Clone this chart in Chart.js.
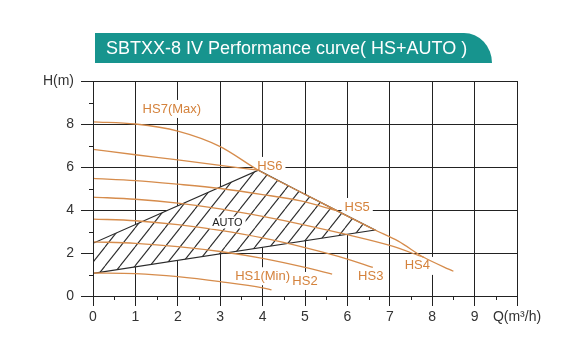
<!DOCTYPE html>
<html><head><meta charset="utf-8">
<style>
html,body{margin:0;padding:0;background:#fff;}
#wrap{position:relative;width:572px;height:364px;overflow:hidden;}
#banner{position:absolute;left:95px;top:33px;width:397px;height:30px;background:#17948e;border-top-right-radius:28px 30px;color:#fff;font:18px "Liberation Sans",Arial,sans-serif;line-height:30px;padding-left:11px;box-sizing:border-box;white-space:nowrap;}
canvas{position:absolute;left:0;top:0;}
</style>
<script src="https://cdn.jsdelivr.net/npm/chart.js"></script>
</head><body>
<div id="wrap"><canvas id="c" width="572" height="364"></canvas><div id="banner">SBTXX-8 IV Performance curve( HS+AUTO )</div></div>
<script>
// ---- data ----
const flowHS7 = [0, 1, 2, 3, 3.9, 4.8, 5.75, 6.65, 7.2, 7.8, 8.5];
const headHS7 = [8.1, 8.0, 7.67, 6.95, 5.85, 4.93, 3.97, 3.07, 2.55, 1.8, 1.15];
const flowHS6 = [0, 1, 2, 3, 3.9];
const headHS6 = [6.82, 6.57, 6.33, 6.08, 5.85];
const flowHS5 = [0, 1, 2, 3, 4, 4.9, 5.75];
const headHS5 = [5.47, 5.37, 5.2, 5.0, 4.72, 4.42, 3.97];
const flowHS4 = [0, 1, 2, 3, 4, 5, 6, 7, 7.8];
const headHS4 = [4.6, 4.5, 4.32, 4.05, 3.7, 3.3, 2.85, 2.35, 1.8];
const flowHS3 = [0, 1, 2, 3, 4, 5, 6, 6.6];
const headHS3 = [3.58, 3.5, 3.32, 3.05, 2.7, 2.25, 1.72, 1.33];
const flowHS2 = [0, 1, 2, 3, 4, 5, 5.64];
const headHS2 = [2.52, 2.45, 2.3, 2.07, 1.75, 1.33, 1.02];
const flowHS1 = [0, 1, 2, 3, 4, 4.21];
const headHS1 = [1.07, 1.04, 0.9, 0.67, 0.38, 0.28];
const flowAUTO = [0, 6.65, 5.75, 4.8, 3.9, 0];
const headAUTO = [1.05, 3.07, 3.97, 4.93, 5.85, 2.45];
const xTickValues = [0, 1, 2, 3, 4, 5, 6, 7, 8, 9, 10];
const yTickValues = [0, 2, 4, 6, 8, 10];
const xAxisName = 'Q(m³/h)';
const yAxisName = 'H(m)';
const curveNames = ['HS7(Max)', 'HS6', 'HS5', 'HS4', 'HS3', 'HS2', 'HS1(Min)'];
const curveLabelFlow = [1.86, 4.17, 6.23, 7.65, 6.55, 5.0, 4.0];
const curveLabelHead = [8.7, 6.05, 4.14, 1.4, 0.92, 0.7, 0.92];
const autoName = 'AUTO';
const autoLabelFlow = 3.17;
const autoLabelHead = 3.42;

const ORANGE = '#d68c4c';
const ORANGE_TXT = '#d4823c';
const INK = '#222';
const FONT = '"Liberation Sans", Arial, sans-serif';

function pts(xs, ys){ return xs.map((x,i)=>({x, y: ys[i]})); }

function hatch(){
  const W=15,H=19;
  const c=document.createElement('canvas'); c.width=W; c.height=H;
  const g=c.getContext('2d');
  g.fillStyle='#fff'; g.fillRect(0,0,W,H);
  g.strokeStyle='#2a2a2a'; g.lineWidth=1.1;
  for (const o of [-W,0,W]) { g.beginPath(); g.moveTo(o,H); g.lineTo(o+W,0); g.stroke(); }
  return g.createPattern(c,'repeat');
}

const curves = [
  [flowHS7, headHS7], [flowHS6, headHS6], [flowHS5, headHS5], [flowHS4, headHS4],
  [flowHS3, headHS3], [flowHS2, headHS2], [flowHS1, headHS1]
];
const datasets = curves.map((c,i)=>({
  label: curveNames[i], data: pts(c[0], c[1]), borderColor: ORANGE, borderWidth: 1.3,
  pointRadius: 0, tension: 0.35, cubicInterpolationMode: 'monotone', fill: false, order: i+1
}));
datasets.push({
  label: autoName, data: pts(flowAUTO, headAUTO), borderColor: '#2a2a2a', borderWidth: 1.2,
  backgroundColor: hatch(), fill: 'shape', pointRadius: 0, tension: 0, order: 20
});

function labelBoxes(chart, drawText){
  const {ctx, scales:{x, y}} = chart;
  ctx.save();
  ctx.font = '13px ' + FONT;
  ctx.textAlign = 'center'; ctx.textBaseline = 'middle';
  curveNames.forEach((t,i)=>{
    const px = x.getPixelForValue(curveLabelFlow[i]), py = y.getPixelForValue(curveLabelHead[i]);
    if (!drawText) {
      const w = ctx.measureText(t).width;
      ctx.fillStyle = '#fff'; ctx.fillRect(px - w/2 - 3, py - 9, w + 6, 18);
    } else {
      ctx.fillStyle = ORANGE_TXT; ctx.fillText(t, px, py);
    }
  });
  ctx.restore();
}

const decor = {
  id: 'decor',
  beforeDatasetsDraw(chart){ labelBoxes(chart, false); },
  afterDatasetsDraw(chart){
    labelBoxes(chart, true);
    const {ctx, scales:{x, y}} = chart;
    ctx.save();
    ctx.font = '11px ' + FONT;
    ctx.textAlign = 'center'; ctx.textBaseline = 'middle';
    const px = x.getPixelForValue(autoLabelFlow), py = y.getPixelForValue(autoLabelHead);
    const w = ctx.measureText(autoName).width;
    ctx.fillStyle = '#fff'; ctx.fillRect(px - w/2 - 3, py - 6, w + 6, 12);
    ctx.fillStyle = '#222'; ctx.fillText(autoName, px, py);
    ctx.restore();
  },
  afterDraw(chart){
    const {ctx, scales:{x, y}} = chart;
    ctx.save();
    ctx.strokeStyle = INK; ctx.lineWidth = 1;
    ctx.beginPath();
    for (let v = 0.5; v < 10; v += 1) {
      const px = Math.round(x.getPixelForValue(v)) + 0.5;
      ctx.moveTo(px, y.bottom); ctx.lineTo(px, y.bottom + 4);
    }
    for (let v = 1; v < 10; v += 2) {
      const py = Math.round(y.getPixelForValue(v)) + 0.5;
      ctx.moveTo(x.left - 4, py); ctx.lineTo(x.left, py);
    }
    ctx.stroke();
    ctx.restore();
  }
};

new Chart(document.getElementById('c'), {
  type: 'line',
  data: { datasets },
  options: {
    responsive: false, animation: false, devicePixelRatio: 1,
    layout: { padding: { top: 81, right: 55, left: 0, bottom: 0 } },
    plugins: { legend: { display: false }, tooltip: { enabled: false }, title: { display: false } },
    scales: {
      x: {
        type: 'linear', min: 0, max: 10,
        afterBuildTicks(s){ s.ticks = xTickValues.map(v=>({value:v})); },
        afterFit(s){ s.height = 68; },
        grid: { color: INK, lineWidth: 1, tickLength: 10, tickColor: INK },
        border: { color: INK, width: 1, z: 1 },
        ticks: { color: '#333', font: { size: 14, family: FONT }, padding: 3,
                 maxRotation: 0, autoSkip: false,
                 callback: v => v === 10 ? xAxisName : String(v) }
      },
      y: {
        type: 'linear', min: 0, max: 10,
        afterBuildTicks(s){ s.ticks = yTickValues.map(v=>({value:v})); },
        afterFit(s){ s.width = 93; },
        grid: { color: INK, lineWidth: 1, tickLength: 12, tickColor: INK },
        border: { color: INK, width: 1, z: 1 },
        ticks: { color: '#333', font: { size: 14, family: FONT }, padding: 7, autoSkip: false,
                 callback: v => v === 10 ? yAxisName : String(v) }
      }
    }
  },
  plugins: [decor]
});
</script>
</body></html>
